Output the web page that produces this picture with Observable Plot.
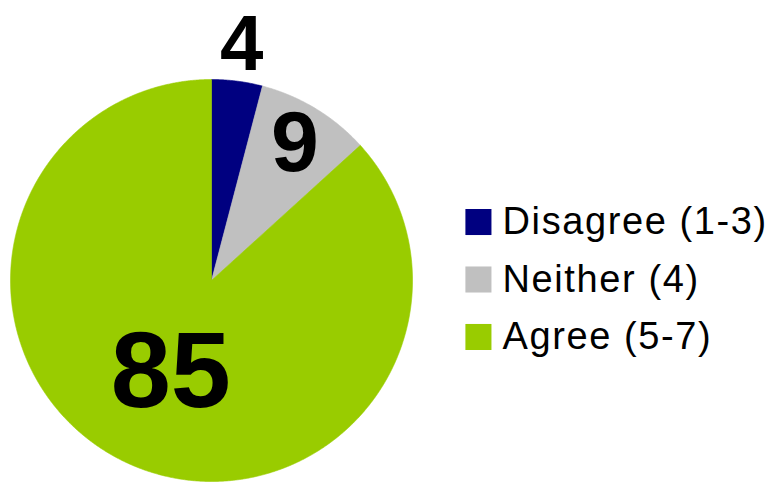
<!DOCTYPE html>
<html>
<head>
<meta charset="utf-8">
<script src="https://cdn.jsdelivr.net/npm/d3@7"></script>
<script src="https://cdn.jsdelivr.net/npm/@observablehq/plot@0.6"></script>
<style>
  html, body { margin: 0; padding: 0; background: #fff; }
  #chart { width: 772px; height: 483px; }
</style>
</head>
<body>
<div id="chart"></div>
<script>
const categories = ["Disagree (1-3)", "Neither (4)", "Agree (5-7)"];
const values = [4, 9, 85];
const colors = ["#000080", "#C0C0C0", "#99CC00"];

// layout constants (in pie-radius units)
const labelRadius = [1.179, 0.8, 0.5];
const labelSize = [78, 86, 108];
const legendX = 1.328, legendTextX = 1.448, legendTop = 0.291, legendStep = 0.286;

const arcs = d3.pie().sort(null).value(d => d)(values);

// polygon outline of each slice: centre + points along the arc
const slicePoints = [];
arcs.forEach((a, i) => {
  const cat = categories[i];
  slicePoints.push({cat, x: 0, y: 0});
  const n = Math.max(2, Math.ceil((a.endAngle - a.startAngle) / 0.005));
  for (let k = 0; k <= n; k++) {
    const t = a.startAngle + (a.endAngle - a.startAngle) * k / n;
    slicePoints.push({cat, x: Math.sin(t), y: Math.cos(t)});
  }
  slicePoints.push({cat, x: 0, y: 0});
});

const labels = arcs.map((a, i) => {
  const m = (a.startAngle + a.endAngle) / 2;
  return {text: String(values[i]), x: Math.sin(m) * labelRadius[i], y: Math.cos(m) * labelRadius[i], size: labelSize[i]};
});

const legend = categories.map((c, i) => ({cat: c, y: legendTop - i * legendStep}));

const chart = Plot.plot({
  width: 772,
  height: 483,
  margin: 0,
  style: {fontFamily: "Arial, 'Liberation Sans', sans-serif", background: "#fff", color: "#000"},
  x: {domain: [-1, 1], range: [10, 412], axis: null},
  y: {domain: [-1, 1], range: [481, 79], axis: null},
  color: {domain: categories, range: colors},
  marks: [
    Plot.line(slicePoints, {x: "x", y: "y", z: "cat", fill: "cat", stroke: "cat", strokeWidth: 0.6, curve: "linear"}),
    ...labels.map(l => Plot.text([l], {x: "x", y: "y", text: "text", fontSize: l.size, fontWeight: "bold", fill: "#000", textAnchor: "middle"})),
    Plot.dot(legend, {x: () => legendX, y: "y", symbol: "square", r: 14.7, fill: "cat", stroke: null}),
    Plot.text(legend, {x: () => legendTextX, y: "y", text: "cat", fontSize: 38, fill: "#000", textAnchor: "start"})
  ]
});
chart.querySelectorAll("text").forEach(t => {
  if (t.textContent && t.textContent.includes("(")) t.style.letterSpacing = "1.6px";
});
document.getElementById("chart").appendChild(chart);
</script>
</body>
</html>
